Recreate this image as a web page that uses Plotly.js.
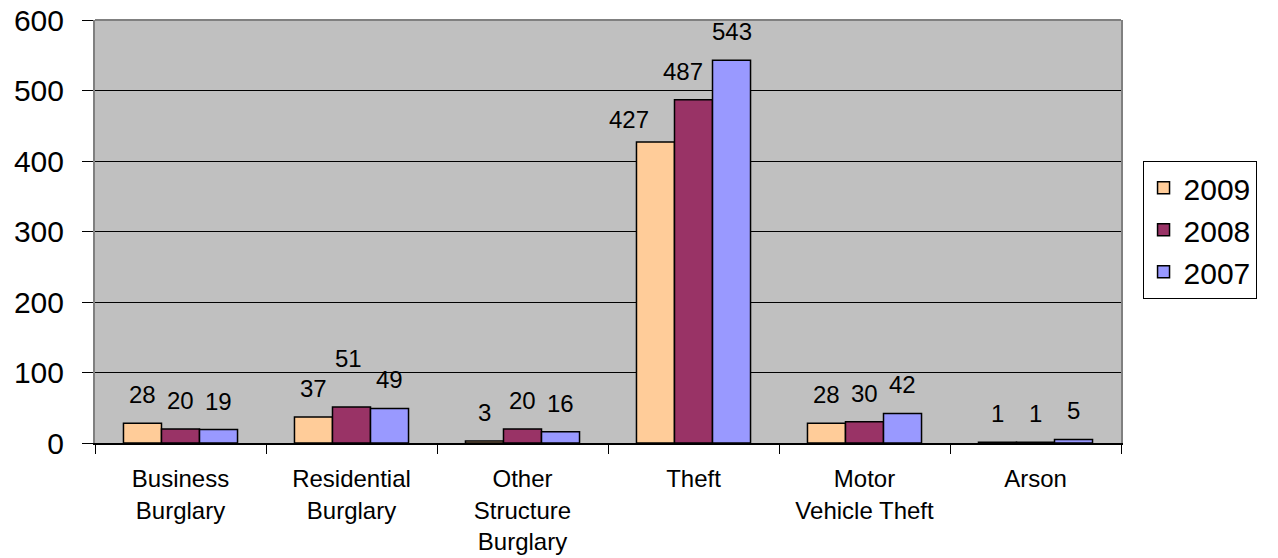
<!DOCTYPE html>
<html>
<head>
<meta charset="utf-8">
<script src="https://cdn.plot.ly/plotly-3.0.1.min.js"></script>
<style>html,body{margin:0;padding:0;background:#fff;}#chart{width:1278px;height:558px;}</style>
</head>
<body>
<div id="chart"></div>
<script>
const categories = ["Business<br>Burglary", "Residential<br>Burglary", "Other<br>Structure<br>Burglary", "Theft", "Motor<br>Vehicle Theft", "Arson"];
const years = ["2009", "2008", "2007"];
const values2009 = [28, 37, 3, 427, 28, 1];
const values2008 = [20, 51, 20, 487, 30, 1];
const values2007 = [19, 49, 16, 543, 42, 5];
const colors = ["#FFCC99", "#993366", "#9999FF"];

// label placement tweaks (pixels) mimicking the original's overlap avoidance: [series index, category index, dx, dy]
const labelNudges = [[1, 1, -3, -20], [0, 3, -26, 6], [1, 3, -11, 0]];

const FONT = "Liberation Sans, Arial, sans-serif";
const W = 1278, H = 558;
const margin = {l: 95, r: 157, t: 20, b: 115};
const bargap = 0.333;
const series = [values2009, values2008, values2007];

const traces = series.map((vals, i) => ({
  type: "bar",
  name: years[i],
  x: categories,
  y: vals,
  marker: {color: colors[i], line: {color: "#000", width: 1.5}},
  hoverinfo: "skip"
}));

const plotW = W - margin.l - margin.r;
const barW = plotW / categories.length * (1 - bargap) / series.length;
const annotations = [];
series.forEach((vals, i) => {
  vals.forEach((v, j) => {
    let dx = 0, dy = 0;
    labelNudges.forEach(n => { if (n[0] === i && n[1] === j) { dx = n[2]; dy = n[3]; } });
    annotations.push({
      x: categories[j], y: v, xref: "x", yref: "y",
      text: String(v), showarrow: false,
      xanchor: "center", yanchor: "bottom",
      xshift: (i - (series.length - 1) / 2) * barW + dx,
      yshift: 13 - dy,
      font: {family: FONT, size: 24, color: "#000"}
    });
  });
});

const layout = {
  width: W, height: H,
  margin: margin,
  paper_bgcolor: "#fff",
  plot_bgcolor: "#C0C0C0",
  barmode: "group",
  bargap: bargap,
  bargroupgap: 0,
  font: {family: FONT, color: "#000"},
  showlegend: true,
  legend: {
    x: 1.021, xanchor: "left", y: 0.504, yanchor: "middle",
    bgcolor: "#fff", bordercolor: "#000", borderwidth: 1,
    font: {family: FONT, size: 30, color: "#000"},
    traceorder: "normal"
  },
  xaxis: {
    type: "category",
    showline: true, linecolor: "#000", linewidth: 1.5,
    ticks: "outside", tickson: "boundaries", ticklen: 9, tickcolor: "#000", tickwidth: 1,
    tickfont: {family: FONT, size: 24, color: "#000"},
    ticklabelstandoff: 14,
    showgrid: false, zeroline: false
  },
  yaxis: {
    range: [0, 600], dtick: 100, tick0: 0,
    showline: true, linecolor: "#808080", linewidth: 2, mirror: true,
    ticks: "outside", ticklen: 11, tickcolor: "#000", tickwidth: 1,
    tickfont: {family: FONT, size: 30, color: "#000"},
    ticklabelstandoff: 12,
    showgrid: true, gridcolor: "#000", gridwidth: 1,
    zeroline: false
  },
  annotations: annotations,
  shapes: [
    {type: "line", xref: "paper", yref: "paper", x0: 0, x1: 1, y0: 1, y1: 1, line: {color: "#808080", width: 2}}
  ]
};

Plotly.newPlot("chart", traces, layout, {displayModeBar: false, staticPlot: true});
</script>
</body>
</html>
